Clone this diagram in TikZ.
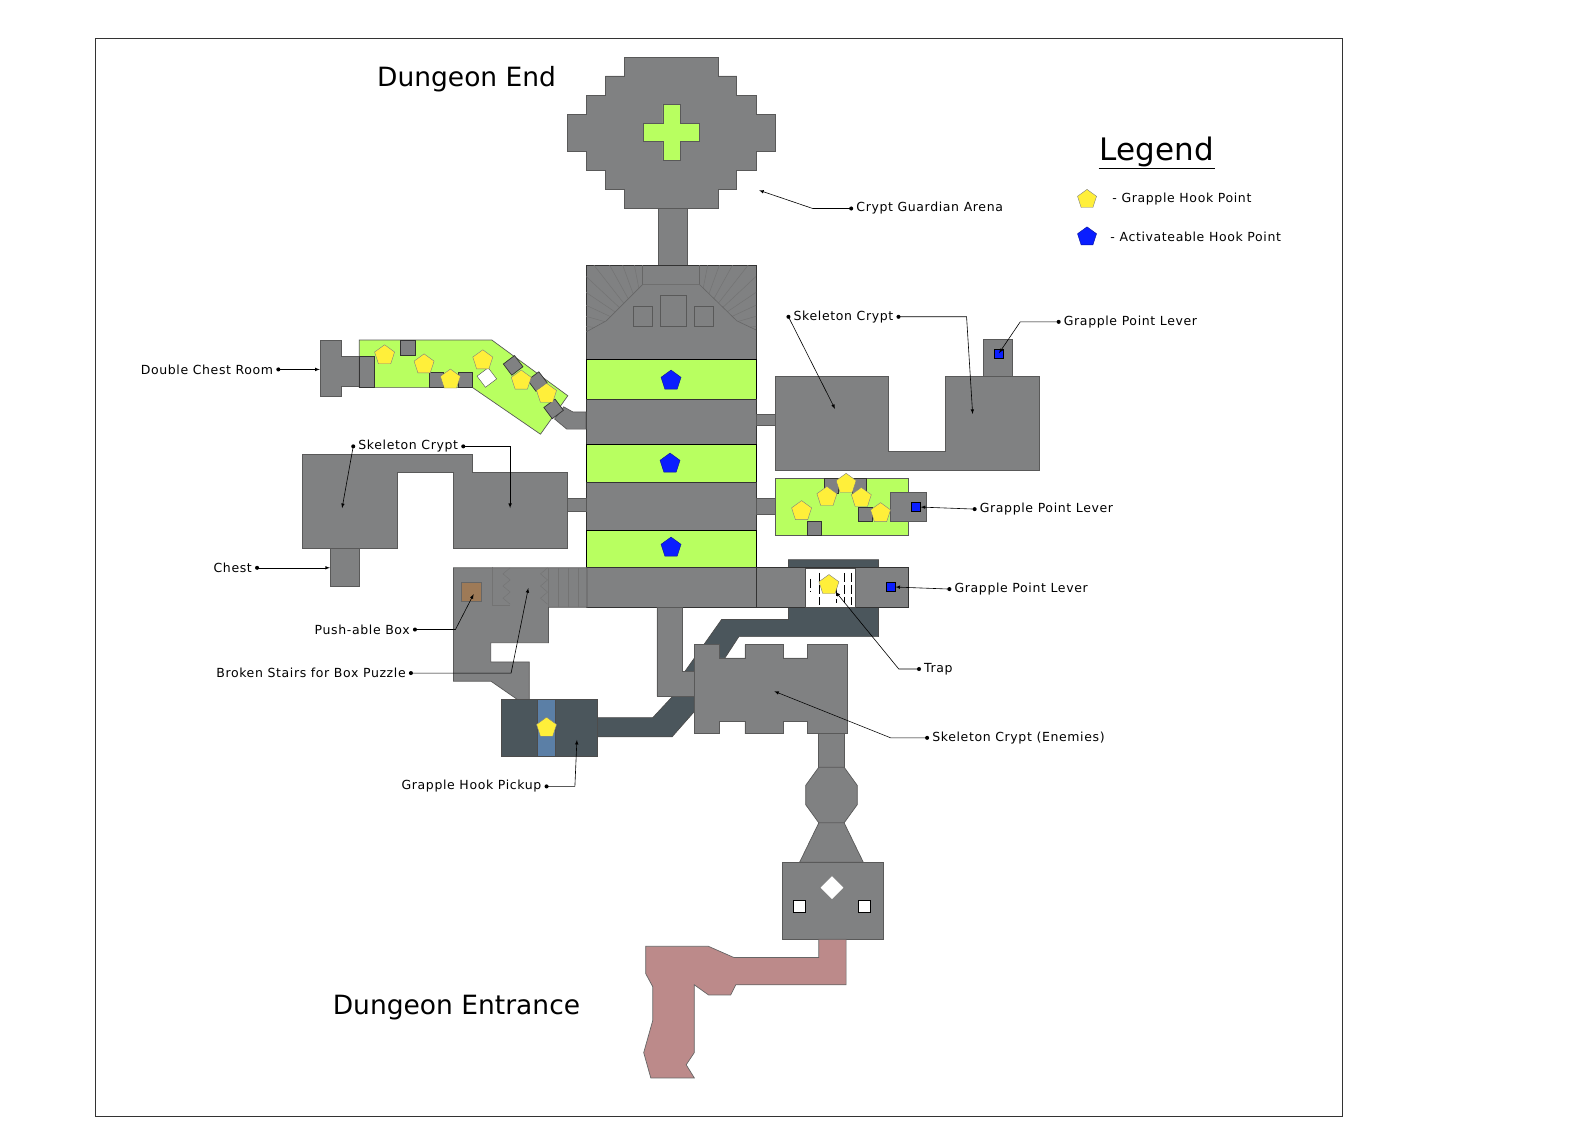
\documentclass[tikz,border=0pt]{standalone}
\usepackage{fontspec}
\setmainfont{DejaVu Sans}
\usetikzlibrary{arrows,shapes.geometric}
\definecolor{roomgray}{HTML}{808182}
\definecolor{slimegreen}{HTML}{B8FF60}
\definecolor{darkslate}{HTML}{4B565C}
\definecolor{stripblue}{HTML}{5B7FA6}
\definecolor{hookyellow}{HTML}{FFEF3A}
\definecolor{hookblue}{HTML}{0A1EFF}
\definecolor{pathpink}{HTML}{BC8A8A}
\tikzset{
room/.style={fill=roomgray, draw=black!65, line width=0.7pt},
greenroom/.style={fill=slimegreen, draw=black!65, line width=0.7pt},
darkroom/.style={fill=darkslate, draw=black!70, line width=0.7pt},
block/.style={fill=roomgray, draw=black!80, line width=0.7pt},
hookpt/.style={regular polygon, regular polygon sides=5, draw=black!50, fill=hookyellow, minimum size=21pt, inner sep=0pt},
activept/.style={hookpt, fill=hookblue, draw=hookblue!60!black},
leverpt/.style={rectangle, fill=hookblue, draw=black, minimum size=9pt, inner sep=0pt},
maplabel/.style={font=\fontsize{12.5}{14}\selectfont\addfontfeatures{LetterSpace=5}, inner sep=5pt},
lead/.style={-latex, black, line width=0.6pt},
title/.style={font=\fontsize{26.5}{30}\selectfont}
}
\begin{document}
\begin{tikzpicture}[x=1.012pt,y=-1.012pt]
\useasboundingbox (0,0) rectangle (1568,1109);
\draw[black!80, line width=0.7pt] (94,38) rectangle (1326,1103);

%Titles and legend
\node[title] (endT) at (461,78) {Dungeon End};
\node[title] (entT) at (451,996) {Dungeon Entrance};
\node[font=\fontsize{31}{34}\selectfont, inner sep=1pt] (legT) at (1143,150) {Legend};
\draw[line width=1pt] (legT.south west) -- (legT.south east);
\node[hookpt, minimum size=20pt] (legY) at (1074,197) {};
\node[activept, minimum size=20pt] (legB) at (1074,234) {};
\node[maplabel, anchor=west] (legYt) at (1094,197) {- Grapple Hook Point};
\node[maplabel, anchor=west] (legBt) at (1092,234) {- Activateable Hook Point};

%Dark passages (under the rest)
\fill[darkroom] (779,553) -- (868,553) -- (868,629) -- (730,629) -- (700,675) -- (677,675) -- (677,663) -- (713,612) -- (779,612) -- cycle;
\fill[darkroom] (686,680) -- (686,703) -- (664,728) -- (590,728) -- (590,709) -- (645,709) -- (672,680) -- cycle;

%Crypt guardian arena
\draw[room] (650,200) rectangle (679,264);
\draw[room] (617,57) -- (710,57) -- (710,75) -- (728,75) -- (728,94) -- (747,94) -- (747,113) -- (766,113) -- (766,150) -- (747,150) -- (747,168) -- (728,168) -- (728,187) -- (710,187) -- (710,206) -- (617,206) -- (617,187) -- (598,187) -- (598,168) -- (579,168) -- (579,150) -- (561,150) -- (561,113) -- (579,113) -- (579,94) -- (598,94) -- (598,75) -- (617,75) -- cycle;
\draw[greenroom] (655,103) -- (672,103) -- (672,122) -- (691,122) -- (691,140) -- (672,140) -- (672,158) -- (655,158) -- (655,140) -- (636,140) -- (636,122) -- (655,122) -- cycle;

%Tower
\draw[block] (579,262) rectangle (747,355);
\begin{scope}
\clip (579,262) -- (635,262) -- (635,281) -- (599,317) -- (579,328) -- cycle;
\foreach \a in {187,196,...,268} \draw[black!55, line width=0.5pt] (640,330) -- ++(\a:120);
\end{scope}
\begin{scope}
\clip (747,262) -- (691,262) -- (691,281) -- (728,317) -- (747,326) -- cycle;
\foreach \a in {272,281,...,354} \draw[black!55, line width=0.5pt] (686,330) -- ++(\a:120);
\end{scope}
\draw[black!60, line width=0.6pt] (579,328) -- (599,317) -- (635,281) -- (691,281) -- (728,317) -- (747,326);
\draw[black!60, line width=0.6pt] (635,262) -- (635,281) (691,262) -- (691,281);
\draw[room] (626,303) rectangle (645,322);
\draw[room] (652,292) rectangle (678,322);
\draw[room] (686,303) rectangle (705,322);
\draw[greenroom, draw=black] (579,355) rectangle (747,395);
\draw[block] (579,395) rectangle (747,439);
\draw[greenroom, draw=black] (579,439) rectangle (747,477);
\draw[block] (579,477) rectangle (747,524);
\draw[greenroom, draw=black] (579,524) rectangle (747,561);
\draw[block] (579,561) rectangle (747,600);
\node[activept] (tw1) at (663,376) {};
\node[activept] (tw2) at (662,458) {};
\node[activept] (tw3) at (663,541) {};

%Double chest room
\draw[room] (548,414) -- (557,402) -- (566,407) -- (579,407) -- (579,424) -- (560,424) -- cycle;
\draw[room] (317,336) -- (337,336) -- (337,352) -- (356,352) -- (356,382) -- (337,382) -- (337,392) -- (317,392) -- cycle;
\draw[greenroom] (355,336) -- (486,336) -- (561,391) -- (534,429) -- (467,383) -- (355,383) -- cycle;
\draw[block] (355,352) rectangle (370,383);
\draw[block] (396,336) rectangle (410,351);
\draw[block] (424,368) rectangle (438,383);
\draw[block] (453,368) rectangle (467,383);
\foreach \p in {(507,361),(531,377),(547,404)}
  \node[block, rectangle, rotate=37, minimum size=14pt, inner sep=0pt] at \p {};
\node[rectangle, rotate=37, fill=white, draw=black!70, minimum size=14pt, inner sep=0pt] (dcDiam) at (481,373) {};
\foreach \p in {(380,351),(419,360),(445,375),(477,356),(515,376),(540,389)}
  \node[hookpt] at \p {};

%Left skeleton crypt
\draw[room] (561,492) rectangle (579,505);
\draw[room] (326,540) rectangle (355,579);
\draw[room] (299,449) -- (467,449) -- (467,467) -- (561,467) -- (561,542) -- (448,542) -- (448,467) -- (393,467) -- (393,542) -- (299,542) -- cycle;

%Right skeleton crypt
\draw[room] (747,409) rectangle (766,420);
\draw[room] (972,335) rectangle (1000,372);
\node[leverpt] (lev1) at (987,349) {};
\draw[room] (766,372) -- (878,372) -- (878,446) -- (934,446) -- (934,372) -- (1027,372) -- (1027,465) -- (766,465) -- cycle;

%Right green room
\draw[room] (747,492) rectangle (785,508);
\draw[greenroom] (766,473) rectangle (897,529);
\draw[room] (880,486) rectangle (915,515);
\node[leverpt] (lev2) at (905,501) {};
\draw[block] (814,473) rectangle (828,487);
\draw[block] (842,473) rectangle (856,487);
\draw[block] (848,501) rectangle (862,515);
\draw[block] (798,515) rectangle (812,529);
\foreach \p in {(792,505),(817,491),(836,478),(851,492),(870,507)}
  \node[hookpt] at \p {};

%Trap corridor
\draw[block] (747,561) rectangle (897,600);
\draw[fill=white, draw=black!70] (796,561) rectangle (845,600);
\foreach \x/\a/\b in {801/572/584,809/566/598,826/580/596,834/566/596,841/566/598}
  \draw[black, line width=0.6pt, dash pattern=on 9pt off 3pt] (\x,\a) -- (\x,\b);
\node[hookpt] (trapY) at (819,578) {};
\node[leverpt] (lev3) at (880,580) {};

%Push box puzzle
\draw[room] (448,561) -- (580,561) -- (580,600) -- (542,600) -- (542,635) -- (485,635) -- (485,654) -- (523,654) -- (523,691) -- (511,691) -- (485,673) -- (448,673) -- cycle;
\foreach \x in {552,561,571} \draw[black!55] (\x,561) -- (\x,600);
\draw[black!55] (542,561) -- (542,600);
\draw[black!55] (486,560) -- (486,598) -- (504,598);
\draw[black!55] (504,561) -- (497,567) -- (504,573) -- (497,579) -- (504,585) -- (497,591) -- (504,597);
\draw[black!55] (541,561) -- (534,567) -- (541,573) -- (534,579) -- (541,585) -- (534,591) -- (541,597);
\draw[fill=brown!70!black!80, draw=black!60] (456,575) rectangle (475,594);

%Grapple hook pickup
\draw[darkroom] (495,691) rectangle (590,747);
\draw[fill=stripblue, draw=black!70] (531,691) rectangle (549,747);
\node[hookpt] (pickY) at (540,719) {};

%Enemy crypt
\draw[room] (649,600) -- (674,600) -- (674,663) -- (690,663) -- (690,688) -- (649,688) -- cycle;
\draw[room] (686,637) -- (711,637) -- (711,650) -- (736,650) -- (736,637) -- (774,637) -- (774,650) -- (798,650) -- (798,637) -- (837,637) -- (837,725) -- (798,725) -- (798,713) -- (774,713) -- (774,725) -- (736,725) -- (736,713) -- (711,713) -- (711,725) -- (686,725) -- cycle;

%Entrance
\draw[room] (809,725) rectangle (834,760);
\draw[room] (809,758) -- (834,758) -- (847,776) -- (847,795) -- (834,813) -- (809,813) -- (796,795) -- (796,776) -- cycle;
\draw[room] (809,813) -- (834,813) -- (853,852) -- (790,852) -- cycle;
\draw[room] (773,852) rectangle (873,928);
\node[rectangle, rotate=45, fill=white, draw=black!60, minimum size=17pt, inner sep=0pt] (entDiam) at (822,877) {};
\draw[fill=white, draw=black] (784,889) rectangle (796,901);
\draw[fill=white, draw=black] (848,889) rectangle (860,901);
\draw[fill=pathpink, draw=black!60, line width=0.7pt] (809,928) -- (836,928) -- (836,973) -- (727,973) -- (722,983) -- (700,983) -- (686,973) -- (686,1040) -- (678,1052) -- (686,1065) -- (643,1065) -- (636,1040) -- (645,1008) -- (645,975) -- (638,962) -- (638,935) -- (700,935) -- (725,946) -- (809,946) -- cycle;

%Labels
\node[maplabel, anchor=west] (lArena) at (841,206) {Crypt Guardian Arena};
\coordinate (tArena) at (750,188);
\node[maplabel, anchor=west] (lSkelR) at (779,313) {Skeleton Crypt};
\coordinate (tSkelRa) at (825,404);
\coordinate (tSkelRb) at (961,409);
\node[maplabel, anchor=west] (lLev1) at (1046,318) {Grapple Point Lever};
\node[maplabel, anchor=east] (lChest2) at (275,365) {Double Chest Room};
\coordinate (tChest2) at (316,365);
\node[maplabel, anchor=west] (lSkelL) at (349,441) {Skeleton Crypt};
\coordinate (tSkelLa) at (338,502);
\coordinate (tSkelLb) at (504,502);
\node[maplabel, anchor=west] (lLev2) at (963,503) {Grapple Point Lever};
\node[maplabel, anchor=east] (lChest) at (254,561) {Chest};
\coordinate (tChest) at (326,561);
\node[maplabel, anchor=west] (lLev3) at (938,582) {Grapple Point Lever};
\node[maplabel, anchor=east] (lBox) at (410,622) {Push-able Box};
\coordinate (tBox) at (468,587);
\node[maplabel, anchor=west] (lTrap) at (908,661) {Trap};
\node[maplabel, anchor=east] (lStairs) at (406,665) {Broken Stairs for Box Puzzle};
\coordinate (tStairs) at (522,581);
\node[maplabel, anchor=west] (lEnemy) at (916,729) {Skeleton Crypt (Enemies)};
\coordinate (tEnemy) at (765,683);
\node[maplabel, anchor=east] (lPick) at (540,777) {Grapple Hook Pickup};
\coordinate (tPick) at (570,731);

%Leaders
\draw[lead] (lArena.west) -- (803,206) -- (tArena);
\draw[lead] (lSkelR.west) -- (tSkelRa);
\draw[lead] (lSkelR.east) -- (955,313) -- (tSkelRb);
\draw[lead] (lLev1.west) -- (1008,318) -- (lev1.center);
\draw[lead] (lChest2.east) -- (tChest2);
\draw[lead] (lSkelL.west) -- (tSkelLa);
\draw[lead] (lSkelL.east) -- (504,441) -- (tSkelLb);
\draw[lead] (lLev2.west) -- (lev2.east);
\draw[lead] (lChest.east) -- (tChest);
\draw[lead] (lLev3.west) -- (lev3.east);
\draw[lead] (lBox.east) -- (450,622) -- (tBox);
\draw[lead] (lTrap.west) -- (888,661) -- (trapY.south east);
\draw[lead] (lStairs.east) -- (505,665) -- (tStairs);
\draw[lead] (lEnemy.west) -- (880,729) -- (tEnemy);
\draw[lead] (lPick.east) -- (568,777) -- (tPick);
\foreach \n/\s in {lArena/west,lSkelR/west,lSkelR/east,lLev1/west,lChest2/east,lSkelL/west,lSkelL/east,lLev2/west,lChest/east,lLev3/west,lBox/east,lTrap/west,lStairs/east,lEnemy/west,lPick/east}
  \fill (\n.\s) circle (2);
\end{tikzpicture}
\end{document}
